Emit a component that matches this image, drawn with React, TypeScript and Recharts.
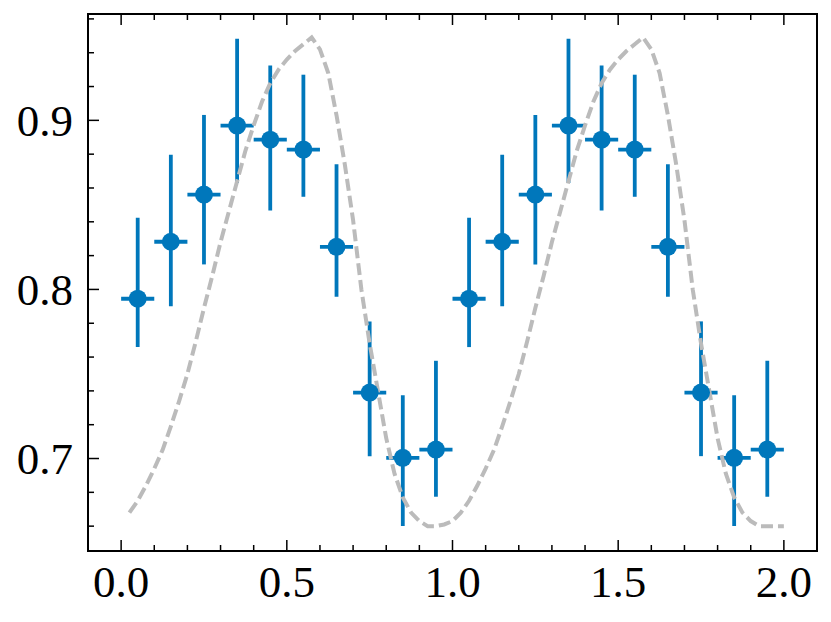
import { ComposedChart, Scatter, Line, XAxis, YAxis, ErrorBar } from 'recharts';

// folded light curve, two cycles
const phase = [0.05, 0.15, 0.25, 0.35, 0.45, 0.55, 0.65, 0.75, 0.85, 0.95,
  1.05, 1.15, 1.25, 1.35, 1.45, 1.55, 1.65, 1.75, 1.85, 1.95];
const phaseErr = [0.05, 0.05, 0.05, 0.05, 0.05, 0.05, 0.05, 0.05, 0.05, 0.05,
  0.05, 0.05, 0.05, 0.05, 0.05, 0.05, 0.05, 0.05, 0.05, 0.05];
const flux = [0.7945, 0.8282, 0.8561, 0.8969, 0.8886, 0.8827, 0.8252, 0.739, 0.7004, 0.7053,
  0.7945, 0.8282, 0.8561, 0.8969, 0.8886, 0.8827, 0.8252, 0.739, 0.7004, 0.7053];
const fluxErrLow = [0.0286, 0.0381, 0.0413, 0.0339, 0.0419, 0.0279, 0.0295, 0.0376, 0.0403, 0.0279,
  0.0286, 0.0381, 0.0413, 0.0339, 0.0419, 0.0279, 0.0295, 0.0376, 0.0403, 0.0279];
const fluxErrHigh = [0.0479, 0.0515, 0.0471, 0.0514, 0.0439, 0.0443, 0.0488, 0.0421, 0.037, 0.0525,
  0.0479, 0.0515, 0.0471, 0.0514, 0.0439, 0.0443, 0.0488, 0.0421, 0.037, 0.0525];

// model curve
const modelPhase = [
  0.025, 0.05, 0.075, 0.1, 0.125, 0.15, 0.175, 0.2, 0.225, 0.25,
  0.275, 0.3, 0.325, 0.35, 0.375, 0.4, 0.425, 0.45, 0.475, 0.5,
  0.525, 0.55, 0.575, 0.6, 0.625, 0.65, 0.675, 0.7, 0.725, 0.75,
  0.775, 0.8, 0.825, 0.85, 0.875, 0.9, 0.925, 0.95, 0.975, 1.0,
  1.025, 1.05, 1.075, 1.1, 1.125, 1.15, 1.175, 1.2, 1.225, 1.25,
  1.275, 1.3, 1.325, 1.35, 1.375, 1.4, 1.425, 1.45, 1.475, 1.5,
  1.525, 1.55, 1.575, 1.6, 1.625, 1.65, 1.675, 1.7, 1.725, 1.75,
  1.775, 1.8, 1.825, 1.85, 1.875, 1.9, 1.925, 1.95, 1.975, 2.0,
];
const modelFlux = [
  0.668, 0.675, 0.684, 0.694, 0.705, 0.719, 0.734, 0.75, 0.769, 0.789,
  0.808, 0.828, 0.846, 0.864, 0.882, 0.897, 0.911, 0.922, 0.93, 0.936,
  0.941, 0.945, 0.949, 0.942, 0.928, 0.903, 0.874, 0.841, 0.8, 0.768,
  0.74, 0.712, 0.691, 0.677, 0.668, 0.663, 0.66, 0.66, 0.661, 0.663,
  0.668, 0.675, 0.684, 0.694, 0.705, 0.719, 0.734, 0.75, 0.769, 0.789,
  0.808, 0.828, 0.846, 0.864, 0.882, 0.897, 0.911, 0.922, 0.93, 0.936,
  0.941, 0.945, 0.949, 0.942, 0.928, 0.903, 0.874, 0.841, 0.8, 0.768,
  0.74, 0.712, 0.691, 0.677, 0.668, 0.663, 0.66, 0.66, 0.66, 0.66,
];

const xTicks = [0, 0.1, 0.2, 0.3, 0.4, 0.5, 0.6, 0.7, 0.8, 0.9, 1.0,
  1.1, 1.2, 1.3, 1.4, 1.5, 1.6, 1.7, 1.8, 1.9, 2.0];
const xMajor = [0, 0.5, 1.0, 1.5, 2.0];
const yTicks = [0.66, 0.68, 0.7, 0.72, 0.74, 0.76, 0.78, 0.8, 0.82, 0.84,
  0.86, 0.88, 0.9, 0.92, 0.94, 0.96];
const yMajor = [0.7, 0.8, 0.9];

const BLUE = '#0077BB';
const GREY = '#BBBBBB';
const FONT = '"Liberation Serif", "Times New Roman", serif';
const xDomain = [-0.1, 2.1];
const yDomain = [0.6453, 0.9629];

const points = phase.map((x, i) => ({
  x, y: flux[i], ex: [phaseErr[i], phaseErr[i]], ey: [fluxErrLow[i], fluxErrHigh[i]],
}));
const model = modelPhase.map((x, i) => ({ x, y: modelFlux[i] }));

const isMajor = (v: number, list: number[]) => list.some((m) => Math.abs(m - v) < 1e-6);

function BottomTick({ x, y, payload }: any) {
  const major = isMajor(payload.value, xMajor);
  return (
    <g>
      <line x1={x} x2={x} y1={y} y2={y - (major ? 11 : 6)} stroke="#000" strokeWidth={1.5} />
      {major && (
        <text x={x} y={y + 45.5} textAnchor="middle" fontFamily={FONT} fontSize={45} fill="#000">
          {payload.value.toFixed(1)}
        </text>
      )}
    </g>
  );
}

function TopTick({ x, y, payload }: any) {
  const major = isMajor(payload.value, xMajor);
  return <line x1={x} x2={x} y1={y} y2={y + (major ? 11 : 6)} stroke="#000" strokeWidth={1.5} />;
}

function LeftTick({ x, y, payload }: any) {
  const major = isMajor(payload.value, yMajor);
  return (
    <g>
      <line x1={x} x2={x + (major ? 11 : 6)} y1={y} y2={y} stroke="#000" strokeWidth={1.5} />
      {major && (
        <text x={x - 15} y={y + 15.3} textAnchor="end" fontFamily={FONT} fontSize={45} fill="#000">
          {payload.value.toFixed(1)}
        </text>
      )}
    </g>
  );
}

const Marker = ({ cx, cy }: any) => <circle cx={cx} cy={cy} r={9} fill={BLUE} />;

const frame = { stroke: '#000', strokeWidth: 2, strokeLinecap: 'square' as const };

export default function App() {
  return (
    <div style={{ position: 'absolute', left: 0, top: 0 }}>
      <ComposedChart width={831} height={622} margin={{ top: 0, right: 0, bottom: 0, left: 0 }}>
        <XAxis dataKey="x" type="number" domain={xDomain} ticks={xTicks} interval={0}
          allowDataOverflow height={71} tickSize={0} tickMargin={0} tick={<BottomTick />} axisLine={frame} />
        <XAxis xAxisId="top" orientation="top" dataKey="x" type="number" domain={xDomain} ticks={xTicks}
          interval={0} allowDataOverflow height={14} tickSize={0} tickMargin={0} tick={<TopTick />} axisLine={frame} />
        <YAxis dataKey="y" type="number" domain={yDomain} ticks={yTicks} interval={0}
          allowDataOverflow width={88} tickSize={0} tickMargin={0} tick={<LeftTick />} axisLine={frame} />
        <YAxis yAxisId="right" orientation="right" type="number" domain={yDomain}
          allowDataOverflow width={14} tick={false} tickLine={false} axisLine={frame} />
        <Scatter data={points} dataKey="y" shape={<Marker />} isAnimationActive={false}>
          <ErrorBar dataKey="ey" direction="y" width={0} stroke={BLUE} strokeWidth={3.8} isAnimationActive={false} />
          <ErrorBar dataKey="ex" direction="x" width={0} stroke={BLUE} strokeWidth={3.8} isAnimationActive={false} />
        </Scatter>
        <Line data={model} dataKey="y" type="linear" dot={false} activeDot={false}
          stroke={GREY} strokeWidth={4} strokeDasharray="12 5" isAnimationActive={false} />
      </ComposedChart>
    </div>
  );
}
